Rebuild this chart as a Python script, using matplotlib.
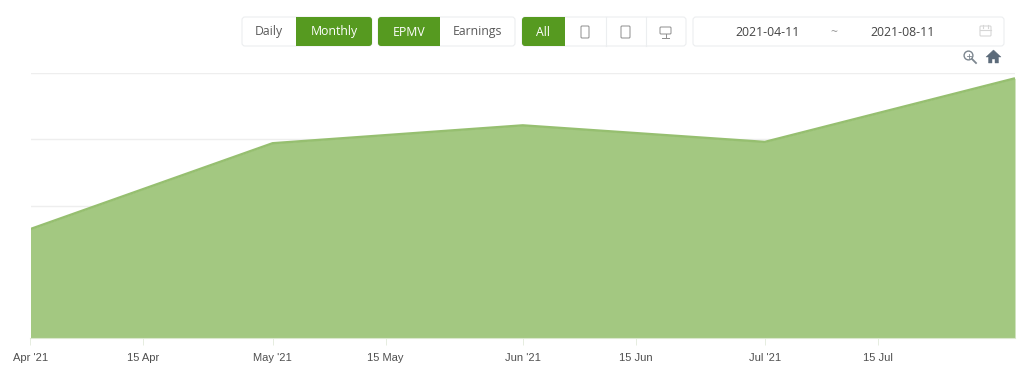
import datetime as dt

import matplotlib
matplotlib.use("Agg")
import matplotlib.dates as mdates
import matplotlib.pyplot as plt
from matplotlib.patches import Circle, FancyBboxPatch, Polygon, Rectangle

dates = ["2021-04-01", "2021-05-01", "2021-06-01", "2021-07-01", "2021-08-01"]
epmv = [1.645, 2.94, 3.21, 2.96, 3.92]
y_ticks = [0, 1, 2, 3, 4]
x_ticks = ["2021-04-01", "2021-04-15", "2021-05-01", "2021-05-15",
           "2021-06-01", "2021-06-15", "2021-07-01", "2021-07-15"]
x_labels = ["Apr '21", "15 Apr", "May '21", "15 May", "Jun '21", "15 Jun", "Jul '21", "15 Jul"]

GREEN = "#569a20"
FILL = "#a3c881"
EDGE = "#96bf70"
BORDER = "#eceef0"
TEXT = "#5a5a5a"
W, H = 1024, 380


def day(s):
    return mdates.date2num(dt.date.fromisoformat(s))


def box(ax, x0, x1, y0, y1, fc="white", ec=BORDER, lw=0.8, r=3):
    ax.add_patch(FancyBboxPatch((x0 + r, y0 + r), x1 - x0 - 2 * r, y1 - y0 - 2 * r,
                                boxstyle=f"round,pad={r},rounding_size={r}",
                                fc=fc, ec=ec, lw=lw))


def green_button(ax, x0, x1, square_left):
    # green part of a button group, squared off on the side facing its neighbour
    box(ax, x0, x1, TOP, BOTTOM, fc=GREEN, ec="none", lw=0)
    sx = x0 if square_left else x1 - 5
    ax.add_patch(Rectangle((sx, TOP), 5, BOTTOM - TOP, fc=GREEN, ec="none"))


fig = plt.figure(figsize=(W / 100, H / 100), dpi=100, facecolor="white")

# main chart, placed by pixel position
ax = fig.add_axes([30.5 / W, 1 - 338 / H, (1015 - 30.5) / W, (338 - 73) / H])
xs = [day(d) for d in dates]
ax.fill_between(xs, epmv, 0, color=FILL, lw=0, zorder=2)
ax.plot(xs, epmv, color=EDGE, lw=1.7, zorder=3, solid_capstyle="butt")
ax.set_xlim(xs[0], xs[-1])
ax.set_ylim(y_ticks[0], y_ticks[-1])
ax.set_yticks(y_ticks)
ax.set_yticklabels([])
ax.set_xticks([day(d) for d in x_ticks])
ax.set_xticklabels(x_labels, family="Liberation Sans", fontsize=8, color="#4f4f4f")
ax.tick_params(axis="y", length=0)
ax.tick_params(axis="x", length=5, width=0.7, color="#e6ede0", pad=6)
ax.grid(axis="y", color="#eeeeee", lw=1, zorder=1)
for side in ["top", "right", "left"]:
    ax.spines[side].set_visible(False)
ax.spines["bottom"].set_color("#dbe8cf")
ax.patch.set_alpha(0)

# toolbar overlay in pixel coordinates
ui = fig.add_axes([0, 0, 1, 1], facecolor="none")
ui.set_xlim(0, W)
ui.set_ylim(H, 0)
ui.axis("off")

TOP, BOTTOM = 17, 46
MID = (TOP + BOTTOM) / 2
box(ui, 242, 372, TOP, BOTTOM)
green_button(ui, 296, 372, True)
box(ui, 378, 515, TOP, BOTTOM)
green_button(ui, 378, 440, False)
box(ui, 522, 686, TOP, BOTTOM)
green_button(ui, 522, 565, False)
for x in [606, 646]:
    ui.plot([x, x], [TOP, BOTTOM], color=BORDER, lw=0.8)
box(ui, 693, 1004, TOP, BOTTOM)

font = dict(family="Open Sans", fontsize=8.8, ha="center", va="center")
for label, x, color in [("Daily", 269, TEXT), ("Monthly", 334, "white"), ("EPMV", 409, "white"),
                        ("Earnings", 477, TEXT), ("All", 543, "white")]:
    ui.text(x, MID + 0.5, label, color=color, weight="medium" if color == "white" else "normal", **font)
ui.text(768, MID + 0.5, "2021-04-11", color="#444444", **font)
ui.text(834, MID + 1, "~", color="#999999", **font)
ui.text(903, MID + 0.5, "2021-08-11", color="#444444", **font)

# device icons
icon = "#8c8c8c"
box(ui, 581, 589, 26, 38, fc="none", ec=icon, lw=0.7, r=1)
box(ui, 621, 630, 26, 38, fc="none", ec=icon, lw=0.7, r=1)
box(ui, 660, 671, 27, 34, fc="none", ec=icon, lw=0.7, r=1)
ui.plot([665.5, 665.5], [34, 37], color=icon, lw=0.7)
ui.plot([662, 669], [37.5, 37.5], color=icon, lw=0.7)

# calendar icon
cal = "#d6d6d6"
box(ui, 980, 991, 26, 36, fc="none", ec=cal, lw=0.8, r=1)
ui.plot([980, 991], [29.5, 29.5], color=cal, lw=0.8)
for x in [983, 988]:
    ui.plot([x, x], [25, 27.5], color=cal, lw=0.8)

# zoom and home icons
ui.add_patch(Circle((968.5, 55.5), 4.4, fc="none", ec="#7d8790", lw=1.0))
ui.plot([972, 976], [59, 63], color="#7d8790", lw=1.3)
ui.plot([966.5, 970.5], [55.5, 55.5], color="#7d8790", lw=0.6)
ui.plot([968.5, 968.5], [53.5, 57.5], color="#7d8790", lw=0.6)
home = "#5c6b7a"
ui.add_patch(Polygon([(986, 57), (993.5, 50), (1001, 57), (998.5, 57), (998.5, 63),
                      (995, 63), (995, 59), (992, 59), (992, 63), (988.5, 63), (988.5, 57)],
                     closed=True, fc=home, ec=home, lw=0.3))

fig.savefig("out.png", dpi=100)
plt.close(fig)
